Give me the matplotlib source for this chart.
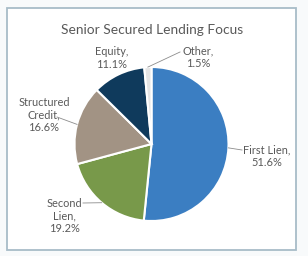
import numpy as np
import matplotlib
matplotlib.use("Agg")
import matplotlib.pyplot as plt
from matplotlib.patches import Rectangle

categories = ["First Lien", "Second Lien", "Structured Credit", "Equity", "Other"]
values = [51.6, 19.2, 16.6, 11.1, 1.5]
label_texts = ["First Lien,\n51.6%", "Second\nLien,\n19.2%", "Structured\nCredit,\n16.6%",
               "Equity,\n11.1%", "Other,\n1.5%"]
colors = ["#3b7ec2", "#78994a", "#a29384", "#0f3a5c", "#e4e4e4"]

W, H = 308, 256
plt.rcParams['font.family'] = ['Lato', 'DejaVu Sans']
fig = plt.figure(figsize=(W / 100, H / 100), dpi=100)
fig.patch.set_facecolor("#f8fafb")
ax = fig.add_axes([0, 0, 1, 1])

# frame panel
ax.add_patch(Rectangle((7, H - 250), 289, 242, facecolor="white",
                       edgecolor="#a8bcc8", linewidth=1.3, zorder=0))

cx, cy, r = 151.5, H - 144, 77
wedges, _ = ax.pie(values, colors=colors, startangle=90, counterclock=False,
                   center=(cx, cy), radius=r,
                   wedgeprops=dict(edgecolor="white", linewidth=1.5))
ax.set_xlim(0, W)
ax.set_ylim(0, H)
ax.set_aspect("equal")
ax.axis("off")

ax.text(152, H - 30, "Senior Secured Lending Focus", ha="center", va="center",
        fontsize=9.9, color="#595959")

# label positions in pixel layout (x, y from top)
label_pos = [(267, 156), (64, 216), (44, 115), (112, 58), (198, 57)]
leader_end = [(242, 150), (83, 203), (57, 117), None, (180, 52)]
for w, txt, (lx, ly), le in zip(wedges, label_texts, label_pos, leader_end):
    ang = np.deg2rad((w.theta1 + w.theta2) / 2)
    ex, ey = cx + r * np.cos(ang), cy + r * np.sin(ang)
    ax.text(lx, H - ly, txt, ha="center", va="center", fontsize=7.9,
            color="#595959", linespacing=1.12)
    if le is not None:
        ax.plot([ex, le[0]], [ey, H - le[1]], color="#8c8c8c", lw=0.6)

fig.savefig("out.png", dpi=100, facecolor=fig.get_facecolor())
